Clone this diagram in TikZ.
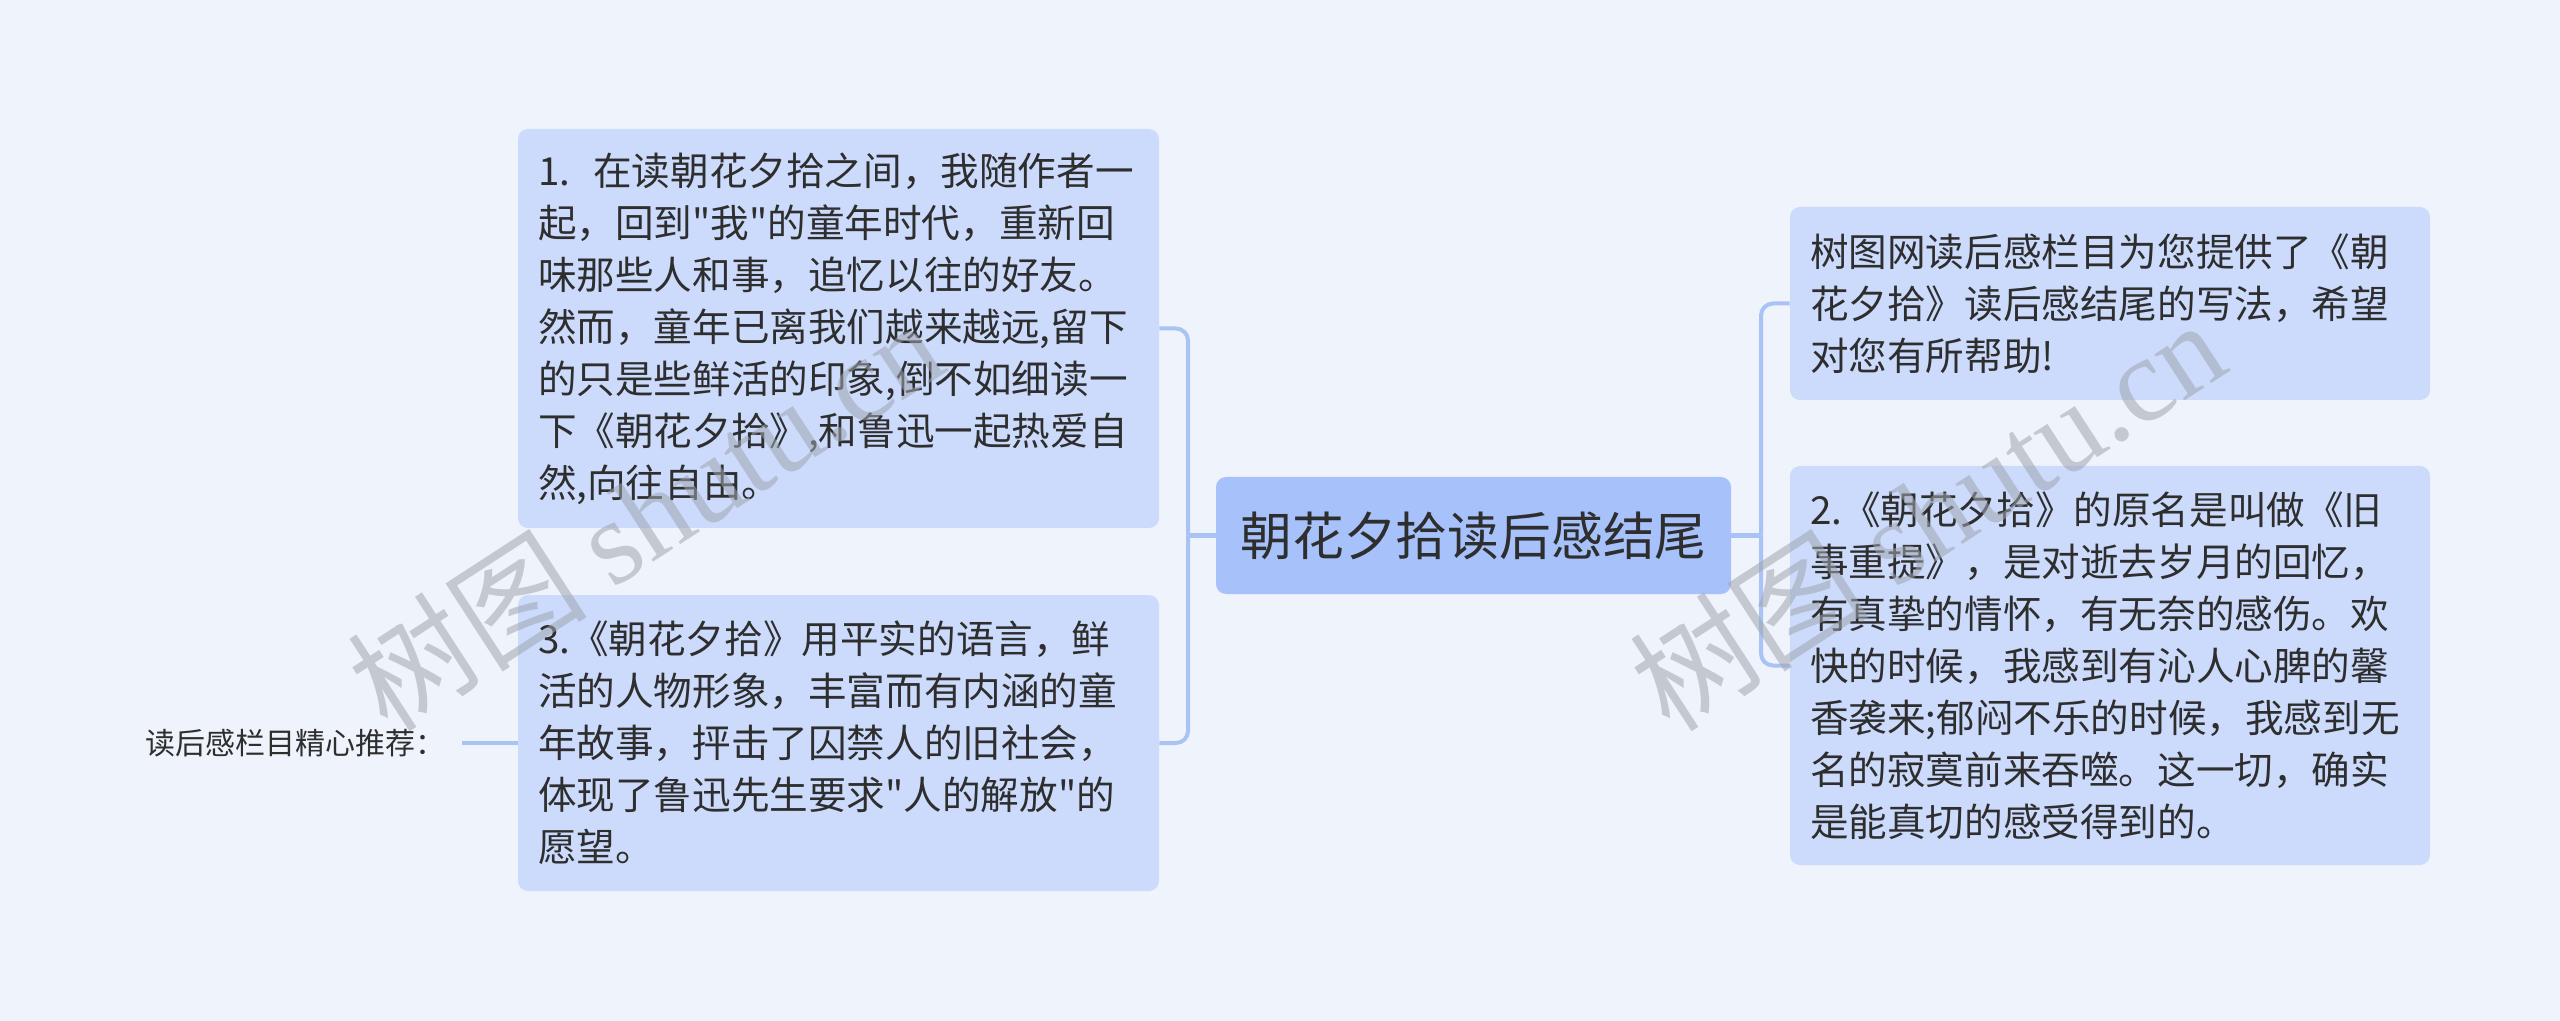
\documentclass[tikz,border=0pt]{standalone}
\usepackage{fontspec}
\setmainfont{Noto Sans CJK SC}[Ligatures=TeXOff]
\newfontfamily\wmlatin{Liberation Serif}
\definecolor{bgc}{HTML}{EEF3FC}
\definecolor{leaffill}{HTML}{CCDBFC}
\definecolor{rootfill}{HTML}{A7C1FA}
\definecolor{linec}{HTML}{A9C3F5}
\definecolor{txt}{HTML}{2E2E2E}
\definecolor{wmc}{HTML}{A0A5AF}
\tikzset{
  leafbox/.style={fill=leaffill, rounded corners=5pt, inner xsep=10pt, inner ysep=0pt,
    align=left, text=txt, font=\fontsize{19.3pt}{26pt}\selectfont},
  rootbox/.style={fill=rootfill, rounded corners=5pt, inner xsep=0pt, inner ysep=0pt,
    align=center, text=txt, minimum width=257.5pt, minimum height=58.5pt,
    font=\fontsize{25.9pt}{32pt}\selectfont},
  conn/.style={draw=linec, line width=2pt, rounded corners=6pt},
  wm/.style={text=wmc, opacity=0.55, rotate=33, inner sep=0pt,
    font=\fontsize{60pt}{60pt}\selectfont},
  lbl/.style={text=txt, inner xsep=8.5pt, inner ysep=0pt, font=\fontsize{15pt}{18pt}\selectfont}
}
\begin{document}
\begin{tikzpicture}[x=0.5pt,y=-0.5pt]
\fill[bgc] (0,0) rectangle (2560,1021);
\useasboundingbox (0,0) rectangle (2560,1021);

% nodes
\node[rootbox] (root) at (1473.5,535.5) {朝花夕拾读后感结尾};

\node[leafbox, text width=300.5pt, minimum height=199.5pt] (b1) at (838.5,328.5) {%
1.\hspace{0.6em}在读朝花夕拾之间，我随作者一\\
起，回到"我"的童年时代，重新回\\
味那些人和事，追忆以往的好友。\\
然而，童年已离我们越来越远,留下\\
的只是些鲜活的印象,倒不如细读一\\
下《朝花夕拾》,和鲁迅一起热爱自\\
然,向往自由。};

\node[leafbox, text width=300.5pt, minimum height=148pt] (b3) at (838.5,743) {%
3.《朝花夕拾》用平实的语言，鲜\\
活的人物形象，丰富而有内涵的童\\
年故事，抨击了囚禁人的旧社会，\\
体现了鲁迅先生要求"人的解放"的\\
愿望。};

\node[leafbox, text width=300pt, minimum height=96.5pt] (r1) at (2110,303.5) {%
树图网读后感栏目为您提供了《朝\\
花夕拾》读后感结尾的写法，希望\\
对您有所帮助!};

\node[leafbox, text width=300pt, minimum height=199.5pt] (r2) at (2110,665.5) {%
2.《朝花夕拾》的原名是叫做《旧\\
事重提》，是对逝去岁月的回忆，\\
有真挚的情怀，有无奈的感伤。欢\\
快的时候，我感到有沁人心脾的馨\\
香袭来;郁闷不乐的时候，我感到无\\
名的寂寞前来吞噬。这一切，确实\\
是能真切的感受得到的。};

\node[lbl] (rec) at (295,743) {读后感栏目精心推荐：};

% connectors
\coordinate (lj) at (1188,535.5);
\coordinate (rj) at (1761,535.5);
\draw[conn] (root.west) -- (lj);
\draw[conn] (lj) |- (b1.east);
\draw[conn] (lj) |- (b3.east);
\draw[conn] (root.east) -- (rj);
\draw[conn] (rj) |- (r1.west);
\draw[conn] (rj) |- (r2.west);
\draw[conn] (rec.east) -- (b3.west);

% watermarks
\node[wm] (wm1) at (645,514) {树图 {\wmlatin shutu.cn}};
\node[wm] (wm2) at (1927,514) {树图 {\wmlatin shutu.cn}};
\end{tikzpicture}
\end{document}
